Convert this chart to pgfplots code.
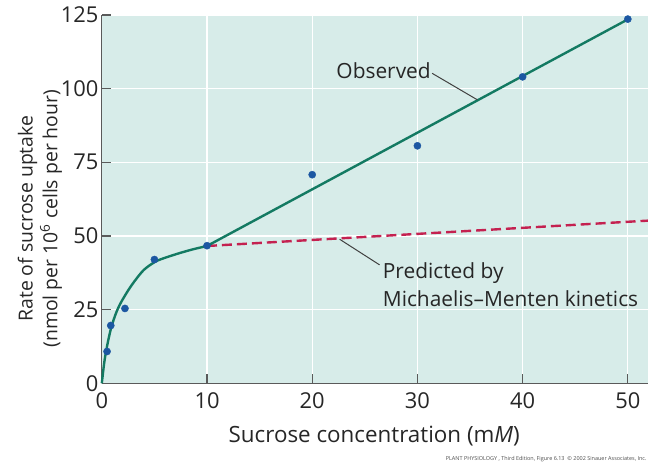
\documentclass[border=0pt]{standalone}
\usepackage{pgfplots}
\pgfplotsset{compat=1.18}
\usepackage{fontspec}
\setmainfont{Open Sans}
\definecolor{bgteal}{HTML}{D7ECE9}
\definecolor{obsgreen}{HTML}{137A62}
\definecolor{ptblue}{HTML}{1C57A2}
\definecolor{mmred}{HTML}{C42150}
\definecolor{axgray}{HTML}{5A5A5A}
\begin{document}
\begin{tikzpicture}
\begin{axis}[
  name=ax,
  scale only axis,
  width=547bp, height=369bp,
  xmin=0, xmax=51.9,
  ymin=0, ymax=125,
  xtick={0,10,20,30,40,50},
  ytick={0,25,50,75,100,125},
  axis lines*=left,
  axis line style={axgray, line width=1.2bp},
  tick style={axgray, line width=1.2bp},
  tick align=inside,
  major tick length=9bp,
  axis background/.style={fill=bgteal},
  grid=major,
  major grid style={white, line width=1.2bp},
  /pgf/number format/assume math mode=true,
  ticklabel style={font=\fontsize{22}{24}\selectfont, text=black!85},
  xticklabel style={yshift=-6bp},
  clip=false,
]
% predicted (Michaelis-Menten)
\addplot[mmred, line width=2.4bp, dash pattern=on 10bp off 5bp] coordinates {
  (10,46.6) (51.9,55.2)
};
% observed fit: saturating part
\addplot[obsgreen, line width=2.4bp, smooth] coordinates {
  (0,0) (0.25,7.5) (0.55,13.5) (0.9,19) (1.35,23.8) (1.8,27.3) (2.5,31.5)
  (3.1,34.6) (4,38.5) (5.1,41.3) (6.1,42.7) (7.5,44.3) (8.7,45.5) (10,46.6)
};
% observed fit: linear part
\addplot[obsgreen, line width=2.4bp] coordinates {
  (10,46.6) (50,123.5)
};
% measured points
\addplot[only marks, mark=*, mark size=3.6bp, ptblue] coordinates {
  (0.5,10.8) (0.85,19.6) (2.2,25.4) (5,42) (10,46.7)
  (20,70.8) (30,80.6) (40,104) (50,123.6)
};
% labels
\draw[black!75, line width=1bp] (axis cs:31.4,105.2) -- (axis cs:35.7,96.2);
\node[font=\fontsize{21}{24}\selectfont, anchor=east, text=black!85]
  at (axis cs:31.6,106) {Observed};
\draw[black!75, line width=1bp] (axis cs:26.4,40.2) -- (axis cs:22.6,48.9);
\node[font=\fontsize{21}{28}\selectfont, anchor=north west, align=left, text=black!85, inner sep=0pt]
  at (axis cs:26.7,41) {Predicted by\\Michaelis–Menten kinetics};
\node[font=\fontsize{19.5}{25}\selectfont, align=center, rotate=90, text=black!85]
  at (rel axis cs:-0.1135,0.447) {Rate of sucrose uptake\\(nmol per 10\textsuperscript{6} cells per hour)};
\node[font=\fontsize{22.5}{24}\selectfont, text=black!85]
  at (rel axis cs:0.499,-0.144) {Sucrose concentration (m\textit{M})};
\node[font=\fontsize{5.5}{6}\selectfont, anchor=east, text=black!70, inner sep=0pt]
  at (rel axis cs:0.998,-0.206) {PLANT PHYSIOLOGY , Third Edition, Figure 6.13\ \ © 2002 Sinauer Associates, Inc.};
\end{axis}
\path ([xshift=-102bp,yshift=-81bp]ax.south west) rectangle ([yshift=15bp]ax.north east);
\end{tikzpicture}
\end{document}
